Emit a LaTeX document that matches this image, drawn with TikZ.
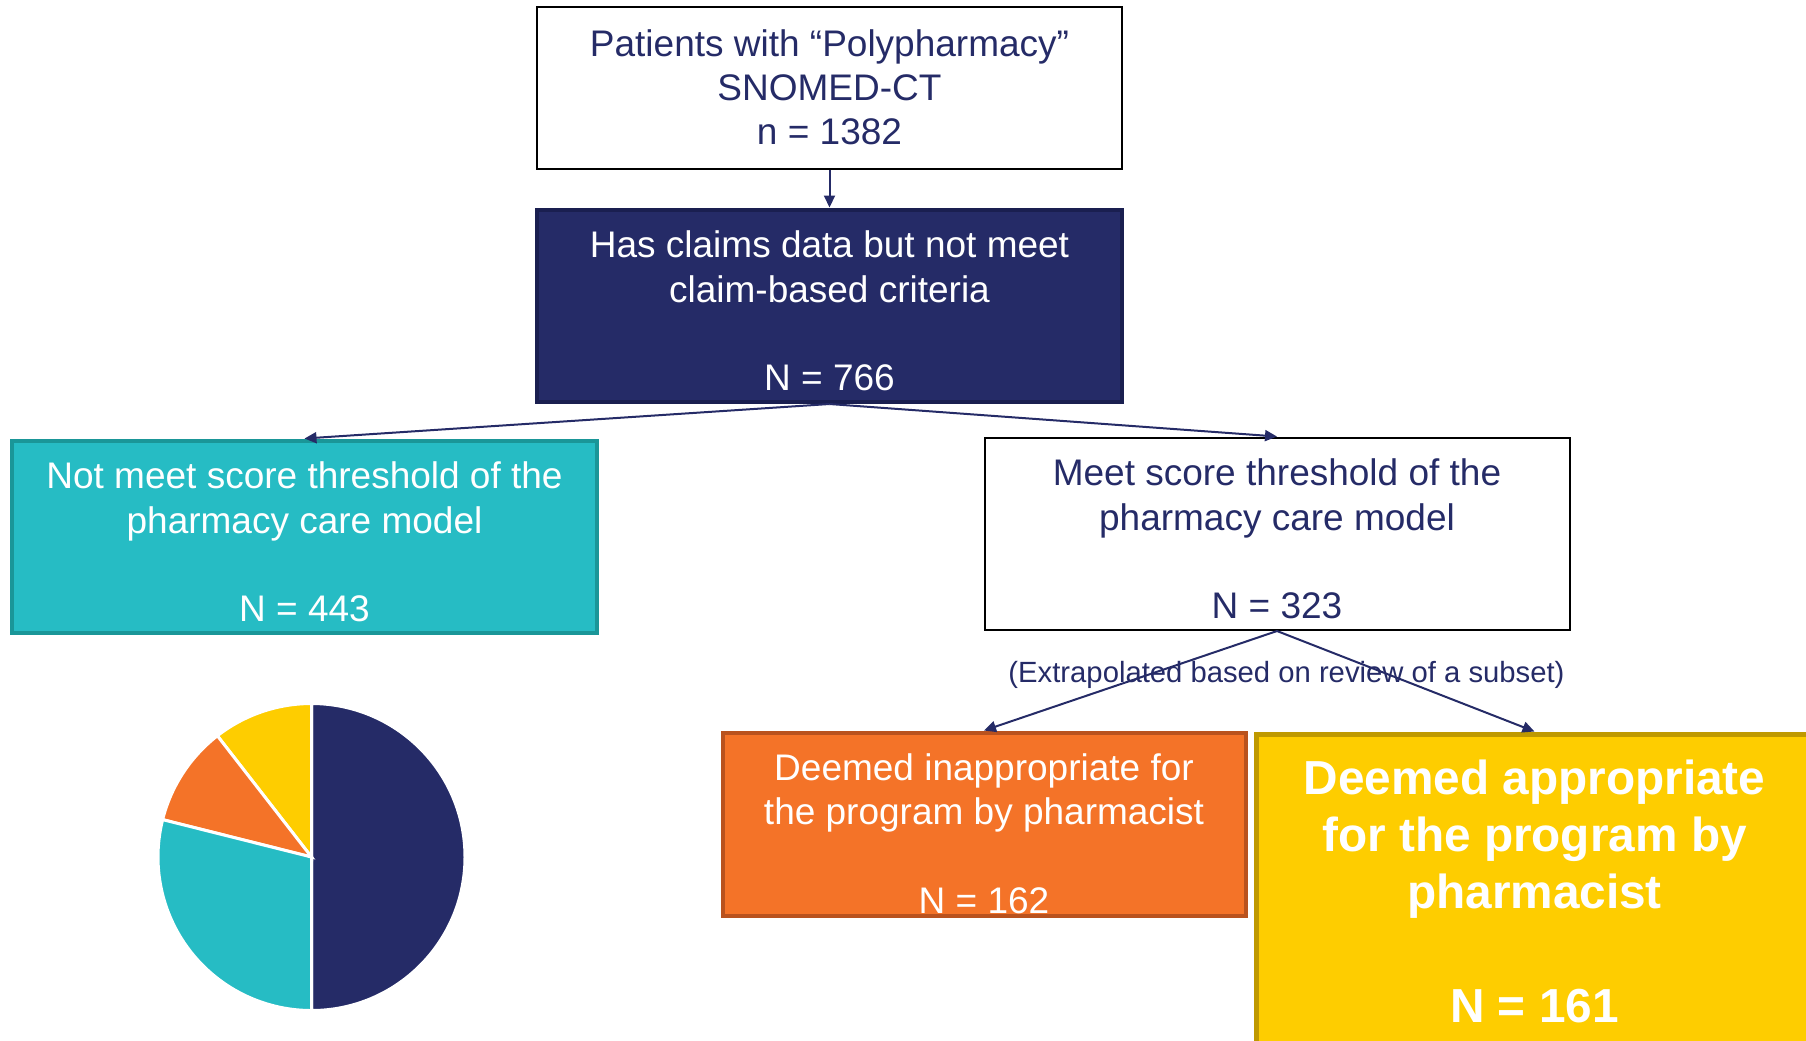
\documentclass[tikz,border=0pt]{standalone}
\usepackage{fontspec}
\setmainfont{Liberation Sans}
\usetikzlibrary{arrows.meta, positioning}
\definecolor{navy}{RGB}{37,43,103}
\definecolor{navyedge}{RGB}{26,31,80}
\definecolor{tealfill}{RGB}{38,188,196}
\definecolor{tealedge}{RGB}{26,150,152}
\definecolor{orangefill}{RGB}{244,115,40}
\definecolor{orangeedge}{RGB}{185,82,30}
\definecolor{yellowfill}{RGB}{254,205,0}
\definecolor{yellowedge}{RGB}{191,153,0}
\newcommand{\boxtop}[1]{\rule{0pt}{#1}}

\begin{document}
\begin{tikzpicture}[
      >={Triangle[length=4.8pt, width=4.4pt]},
      font = \fontsize{14.8}{17.7}\selectfont,
      flowbox/.style={
        rectangle,
        inner sep = 0pt,
        align = center,
        minimum width = 234pt,
        minimum height = 77pt,
      },
      plainbox/.style={flowbox, draw = black, line width = 0.8pt, text = navy},
      colorbox/.style={flowbox, draw = #1edge, fill = #1fill, line width = 1.6pt, text = white},
      link/.style={->, navy, line width = 0.8pt},
    ]
    \useasboundingbox (0,0) rectangle (722.4pt,-416pt);
    \node[plainbox, minimum height = 64.8pt] (poly) at (331.8pt,-35pt)
      {Patients with “Polypharmacy”\\SNOMED-CT\\n = 1382};
    \node[flowbox, draw = navyedge, fill = navy, line width = 1.6pt, text = white,
      below = 15.2pt of poly] (claims)
      {\boxtop{15pt}Has claims data but not meet\\claim-based criteria\\[17.7pt]N = 766};
    \node[colorbox = teal, below = 13.8pt of claims, xshift = -210pt] (notmeet)
      {\boxtop{15pt}Not meet score threshold of the\\pharmacy care model\\[17.7pt]N = 443};
    \node[plainbox, below = 13pt of claims, xshift = 179pt] (meet)
      {\boxtop{15pt}Meet score threshold of the\\pharmacy care model\\[17.7pt]N = 323};
    \node[colorbox = orange, minimum width = 209.2pt, minimum height = 73.2pt,
      below = 39.8pt of meet, xshift = -117.2pt] (inapp)
      {\boxtop{18.6pt}Deemed inappropriate for\\the program by pharmacist\\[17.7pt]N = 162};
    \node[colorbox = yellow, line width = 2pt, minimum width = 222.4pt, minimum height = 126pt,
      font = \bfseries\fontsize{19.1}{22.8}\selectfont,
      below = 40.2pt of meet, xshift = 103pt] (approp)
      {Deemed appropriate\\for the program by\\pharmacist\\[22.8pt]N = 161};
    \node[text = navy, inner sep = 0pt, font = \fontsize{11.7}{14}\selectfont,
      below = 12pt of meet.south, xshift = 3.8pt] (extra)
      {(Extrapolated based on review of a subset)};
    \draw[link] (poly) -- (claims);
    \draw[link] (claims.south) -- (notmeet.north);
    \draw[link] (claims.south) -- (meet.north);
    \draw[link] (meet.south) -- (inapp.north);
    \draw[link] (meet.south) -- (approp.north);
    % pie of the four groups
    \coordinate[below = 88.8pt of notmeet, xshift = 2.8pt] (piec);
    \foreach \from/\to/\col in {-90/90/navy, 90/127.83/yellowfill,
        127.83/165.9/orangefill, 165.9/270/tealfill}
      \filldraw[fill = \col, draw = white, line width = 1.2pt]
        (piec) -- ++(\from:61.4pt) arc[start angle = \from, end angle = \to, radius = 61.4pt] -- cycle;
  \end{tikzpicture}
\end{document}
